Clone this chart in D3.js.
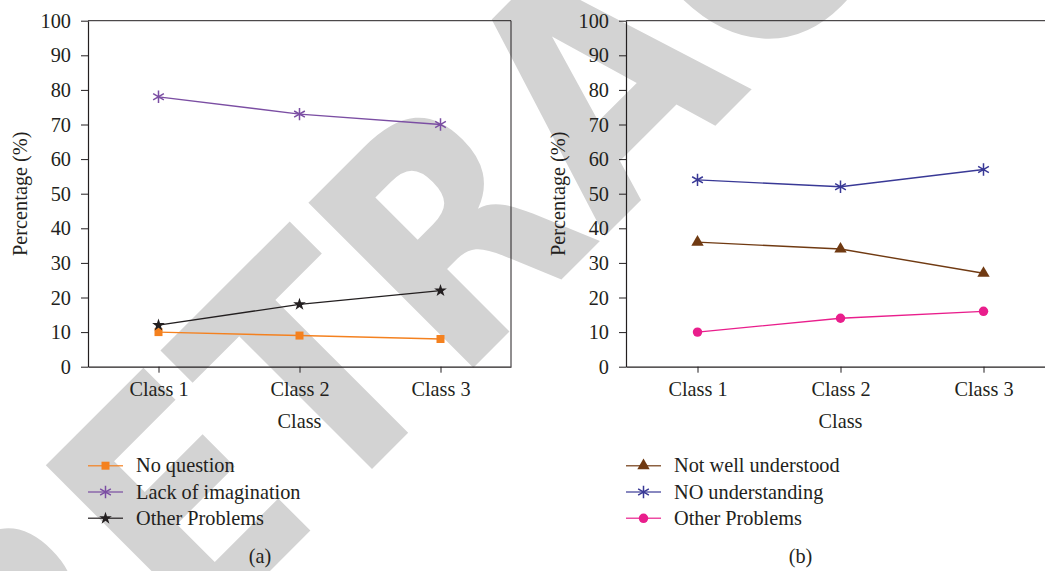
<!DOCTYPE html>
<html>
<head>
<meta charset="utf-8">
<script src="https://cdn.jsdelivr.net/npm/d3@7"></script>
<style>
  html, body { margin: 0; padding: 0; background: #fff; }
  svg { display: block; }
  .lbl { font-family: "Liberation Serif", "Times New Roman", serif; font-size: 20.3px; fill: #231f20; }
</style>
</head>
<body>
<svg id="chart" width="1045" height="571"></svg>
<script>
// ---- data ----
const classes = ["Class 1", "Class 2", "Class 3"];
const yTicks = [0, 10, 20, 30, 40, 50, 60, 70, 80, 90, 100];

const noQuestion = [10, 9, 8];
const lackOfImagination = [78, 73, 70];
const otherProblemsA = [12, 18, 22];

const notWellUnderstood = [36, 34, 27];
const noUnderstanding = [54, 52, 57];
const otherProblemsB = [10, 14, 16];

const seriesA = [
  { name: "No question", values: noQuestion, color: "#f4811f", marker: "square" },
  { name: "Lack of imagination", values: lackOfImagination, color: "#7b4ea3", marker: "asterisk" },
  { name: "Other Problems", values: otherProblemsA, color: "#231f20", marker: "star" }
];
const seriesB = [
  { name: "Not well understood", values: notWellUnderstood, color: "#703a12", marker: "triangle" },
  { name: "NO understanding", values: noUnderstanding, color: "#393996", marker: "asterisk" },
  { name: "Other Problems", values: otherProblemsB, color: "#e91e8c", marker: "circle" }
];

const svg = d3.select("#chart");
const ink = "#231f20";

// ---- watermark stamp ----
svg.append("text")
  .attr("transform", "translate(45,796) rotate(-45) scale(0.85,1)")
  .attr("font-family", "DejaVu Sans, sans-serif")
  .attr("font-weight", "bold")
  .attr("font-size", 320)
  .attr("fill", "#d3d3d3")
  .text("RETRACTED");

// six-spoke asterisk path
function asteriskPath(r) {
  const t = r / 2, u = t * Math.sqrt(3);
  return `M0,${r}L0,${-r}M${-u},${-t}L${u},${t}M${-u},${t}L${u},${-t}`;
}

function drawMarker(g, kind, color) {
  if (kind === "asterisk") {
    g.append("path").attr("d", asteriskPath(6.2))
      .attr("fill", "none").attr("stroke", color).attr("stroke-width", 1.5);
  } else {
    const type = { square: d3.symbolSquare, star: d3.symbolStar, triangle: d3.symbolTriangle, circle: d3.symbolCircle }[kind];
    const size = { square: 64, star: 50, triangle: 66, circle: 70 }[kind];
    g.append("path").attr("d", d3.symbol().type(type).size(size)())
      .attr("fill", color);
  }
}

function panel(opts) {
  const { left, right, top, bottom, series, legendX, legendY, tag, tagX, titleX, fullBox } = opts;
  const x = d3.scalePoint().domain(classes).range([left, right]).padding(0.5);
  const y = d3.scaleLinear().domain([0, 100]).range([bottom, top]);

  const g = svg.append("g");

  // frame: top and right borders
  g.append("line").attr("x1", left).attr("x2", right).attr("y1", top).attr("y2", top)
    .attr("stroke", ink).attr("stroke-width", 1);
  if (fullBox) {
    g.append("line").attr("x1", right).attr("x2", right).attr("y1", top).attr("y2", bottom)
      .attr("stroke", ink).attr("stroke-width", 1);
  }

  const ya = g.append("g").attr("transform", `translate(${left},0)`)
    .call(d3.axisLeft(y).tickValues(yTicks).tickSize(7).tickPadding(10).tickSizeOuter(0));
  const xa = g.append("g").attr("transform", `translate(0,${bottom})`)
    .call(d3.axisBottom(x).tickSize(6).tickPadding(9).tickSizeOuter(0));
  [ya, xa].forEach(a => {
    a.selectAll("path.domain").attr("stroke", ink).attr("stroke-width", 1.2);
    a.selectAll(".tick line").attr("stroke", ink).attr("stroke-width", 1);
    a.selectAll(".tick text").attr("class", "lbl").attr("font-family", null).attr("font-size", null).attr("fill", null);
  });

  // axis titles
  g.append("text").attr("class", "lbl").attr("text-anchor", "middle")
    .attr("x", titleX).attr("y", 428).text("Class");
  g.append("text").attr("class", "lbl").attr("text-anchor", "middle")
    .attr("transform", `translate(${left - 61},${(top + bottom) / 2}) rotate(-90)`)
    .text("Percentage (%)");

  // series lines and markers
  const line = d3.line().x((d, i) => x(classes[i])).y(d => y(d));
  series.forEach(s => {
    g.append("path").datum(s.values).attr("d", line)
      .attr("fill", "none").attr("stroke", s.color).attr("stroke-width", 1.4);
    s.values.forEach((v, i) => {
      const m = g.append("g").attr("transform", `translate(${x(classes[i])},${y(v)})`);
      drawMarker(m, s.marker, s.color);
    });
  });

  // legend
  series.forEach((s, i) => {
    const ly = legendY + i * 26.3;
    g.append("line").attr("x1", legendX).attr("x2", legendX + 35)
      .attr("y1", ly).attr("y2", ly)
      .attr("stroke", s.color).attr("stroke-width", 1.6).attr("stroke-opacity", 0.8);
    const m = g.append("g").attr("transform", `translate(${legendX + 17.5},${ly})`);
    drawMarker(m, s.marker, s.color);
    g.append("text").attr("class", "lbl").attr("x", legendX + 48).attr("y", ly + 6.5).text(s.name);
  });

  g.append("text").attr("class", "lbl").attr("text-anchor", "middle")
    .attr("x", tagX).attr("y", 563).text(tag);
}

panel({ left: 88, right: 511, top: 20.7, bottom: 366.7, series: seriesA,
        legendX: 88, legendY: 465.7, tag: "(a)", tagX: 260, titleX: 299.5, fullBox: true });
panel({ left: 626, right: 1055, top: 20.7, bottom: 366.7, series: seriesB,
        legendX: 626, legendY: 465.7, tag: "(b)", tagX: 800.5, titleX: 840.5, fullBox: true });
</script>
</body>
</html>
